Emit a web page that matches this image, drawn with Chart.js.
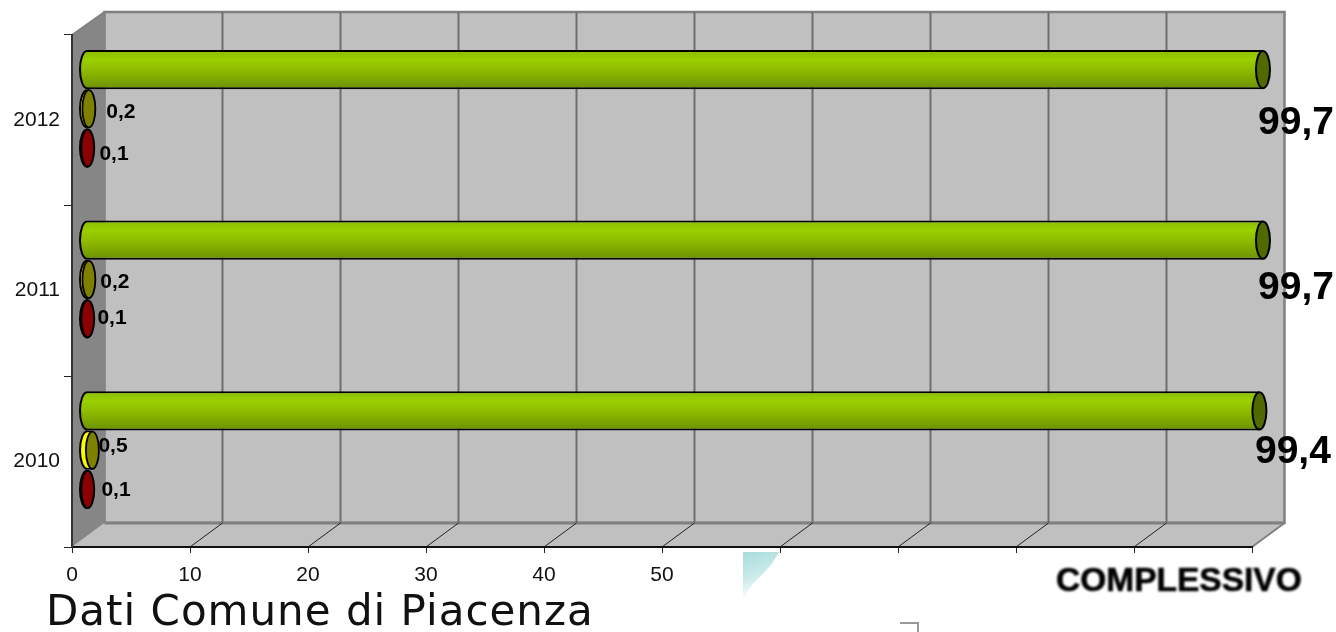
<!DOCTYPE html>
<html>
<head>
<meta charset="utf-8">
<title>Dati Comune di Piacenza</title>
<script src="https://cdn.jsdelivr.net/npm/chart.js@4"></script>
<style>
  html, body { margin: 0; padding: 0; background: #fff; overflow: hidden; }
  #wrap { position: relative; width: 1336px; height: 632px; overflow: hidden; }
  #comuneChart { position: absolute; left: 0; top: 0; }
  #titolo {
    position: absolute; left: 46px; top: 586px; letter-spacing: 1px;
    font: 42px "DejaVu Sans", sans-serif; color: #111; white-space: nowrap;
  }
  #complessivo {
    position: absolute; left: 1056px; top: 561px;
    font: bold 33.5px "Liberation Sans", sans-serif; color: #000; white-space: nowrap;
    -webkit-text-stroke: 0.6px #000;
    filter: blur(0.8px);
  }
  #angolo {
    position: absolute; left: 743px; top: 552px; width: 36px; height: 50px;
    background: linear-gradient(160deg, #a8dcdc 0%, #cceaea 45%, #ffffff 78%);
    clip-path: polygon(0 0, 100% 0, 80% 24%, 55% 44%, 30% 62%, 12% 80%, 0 100%);
  }
  #squadra {
    position: absolute; left: 900px; top: 622px; width: 17px; height: 12px;
    border-top: 2px solid #999; border-right: 2px solid #999; filter: blur(0.5px);
  }
</style>
</head>
<body>
<div id="wrap">
  <canvas id="comuneChart" width="1336" height="632"></canvas>
  <div id="angolo"></div>
  <div id="squadra"></div>
  <div id="titolo">Dati Comune di Piacenza</div>
  <div id="complessivo">COMPLESSIVO</div>
</div>

<script>
const years = ['2012', '2011', '2010'];
const greenValues = [99.7, 99.7, 99.4];
const yellowValues = [0.2, 0.2, 0.5];
const redValues = [0.1, 0.1, 0.1];
const axisTicks = [0, 10, 20, 30, 40, 50];

/* -----------------------------
   3D look of the plot box
------------------------------ */
const DEPTH_X = 32.5;     // back wall offset
const DEPTH_Y = 24;
const BAR_DX = 14.5;      // bars stand halfway into the box
const BAR_DY = -11.5;
const BAR_GROUP = 0.69;

// where each value label sits, relative to the end of its bar
const greenNudge = [[33, 53.5], [33, 48.5], [33.5, 41.5]];
const yellowNudge = [[32, 3], [26, 2.5], [20.6, -4]];
const redNudge = [[26.3, 6.5], [24.3, -0.5], [28.3, 0.5]];

function comma(v) {
  return v.toFixed(1).replace('.', ',');
}

function poly(ctx, pts, fill, stroke, lw) {
  ctx.beginPath();
  pts.forEach((p, i) => i ? ctx.lineTo(p[0], p[1]) : ctx.moveTo(p[0], p[1]));
  ctx.closePath();
  if (fill) { ctx.fillStyle = fill; ctx.fill(); }
  if (stroke) { ctx.strokeStyle = stroke; ctx.lineWidth = lw; ctx.stroke(); }
}

function segment(ctx, x1, y1, x2, y2, color, lw) {
  ctx.beginPath();
  ctx.moveTo(x1, y1);
  ctx.lineTo(x2, y2);
  ctx.strokeStyle = color;
  ctx.lineWidth = lw;
  ctx.stroke();
}

/* -----------------------------
   Walls, floor and grid
------------------------------ */
const boxPlugin = {
  id: 'box',
  beforeDraw(chart) {
    const { ctx, chartArea: a, scales } = chart;
    const bx = DEPTH_X, by = DEPTH_Y;
    ctx.save();
    // back wall
    poly(ctx, [[a.left + bx, a.top - by + 1], [a.right + bx, a.top - by + 1], [a.right + bx, a.bottom - by], [a.left + bx, a.bottom - by]],
      '#c0c0c0', '#808080', 2.5);
    // floor
    poly(ctx, [[a.left, a.bottom], [a.left + bx, a.bottom - by], [a.right + bx, a.bottom - by], [a.right, a.bottom]], '#c0c0c0');
    // side wall
    poly(ctx, [[a.left, a.top], [a.left + bx, a.top - by + 1], [a.left + bx, a.bottom - by], [a.left, a.bottom]], '#868686');
    segment(ctx, a.left, a.top, a.left + bx, a.top - by + 1, '#808080', 2);
    segment(ctx, a.right, a.bottom, a.right + bx, a.bottom - by, '#808080', 2);
    segment(ctx, a.left + bx, a.bottom - by, a.right + bx, a.bottom - by, '#808080', 3);

    for (let v = 10; v < 100; v += 10) {
      const x = scales.x.getPixelForValue(v);
      segment(ctx, x + bx, a.top - by + 1, x + bx, a.bottom - by, '#6e6e6e', 2);
      segment(ctx, x, a.bottom, x + bx, a.bottom - by, '#222', 1);
    }
    ctx.restore();
  },

  /* -----------------------------
     Bars are shifted into the box
  ------------------------------ */
  beforeDatasetsDraw(chart) {
    chart.ctx.save();
    chart.ctx.translate(BAR_DX, BAR_DY);
  },
  beforeDatasetDraw(chart, args) {
    const ctx = chart.ctx;
    // rounded back end, only its outer half gets an outline
    args.meta.data.forEach(el => {
      ctx.beginPath();
      ctx.ellipse(el.base, el.y, 7, el.height / 2 - 1, 0, 0, Math.PI * 2);
      ctx.fillStyle = el.options.backgroundColor;
      ctx.fill();
      ctx.beginPath();
      ctx.ellipse(el.base, el.y, 7, el.height / 2 - 1, 0, Math.PI / 2, Math.PI * 1.5);
      ctx.strokeStyle = '#000';
      ctx.lineWidth = 2;
      ctx.stroke();
    });
  },
  afterDatasetDraw(chart, args) {
    const ds = chart.data.datasets[args.index];
    const ctx = chart.ctx;
    args.meta.data.forEach(el => {
      ctx.beginPath();
      ctx.ellipse(el.x, el.y, ds.capWidth, el.height / 2 - 1, 0, 0, Math.PI * 2);
      ctx.fillStyle = ds.capColor;
      ctx.fill();
      ctx.strokeStyle = '#000';
      ctx.lineWidth = ds.capLine;
      ctx.stroke();
    });
  },
  afterDatasetsDraw(chart) {
    const ctx = chart.ctx;
    ctx.fillStyle = '#000';
    ctx.textAlign = 'center';
    ctx.textBaseline = 'middle';
    chart.data.datasets.forEach((ds, i) => {
      ctx.font = 'bold ' + ds.labelSize + 'px "Liberation Sans", sans-serif';
      chart.getDatasetMeta(i).data.forEach((el, j) => {
        ctx.fillText(comma(ds.data[j]), el.x + ds.nudge[j][0], el.y + ds.nudge[j][1]);
      });
    });
    ctx.restore();
  }
};

// vertical shading of a bar, so it reads as a cylinder
function cylinder(stops) {
  return function (c) {
    const flat = stops[stops.length - 1][1];
    const y = c.chart.scales.y;
    if (!y || c.dataIndex === undefined) return flat;
    const h = y.height / years.length * BAR_GROUP / 3;
    const top = y.getPixelForValue(c.dataIndex) + (c.datasetIndex - 1.5) * h;
    if (!Number.isFinite(top) || !Number.isFinite(h)) return flat;
    const g = c.chart.ctx.createLinearGradient(0, top, 0, top + h);
    stops.forEach(s => g.addColorStop(s[0], s[1]));
    return g;
  };
}

const greenStops = [[0, '#8abc00'], [0.25, '#9ad000'], [0.55, '#8cb800'], [1, '#6a9000']];
const yellowStops = [[0, '#ffff00'], [1, '#f4f400']];
const redStops = [[0, '#200000'], [1, '#100000']];

function series(label, data, stops, capColor, capWidth, capLine, labelSize, nudge) {
  return {
    label,
    data,
    capColor,
    capWidth,
    capLine,
    labelSize,
    nudge,
    clip: false,
    backgroundColor: cylinder(stops),
    borderColor: '#000',
    borderWidth: { top: 2, bottom: 2, left: 0, right: 0 },
    borderSkipped: false,
    categoryPercentage: BAR_GROUP,
    barPercentage: 1
  };
}

const ctx = document.getElementById('comuneChart').getContext('2d');

new Chart(ctx, {
  type: 'bar',
  plugins: [boxPlugin],
  data: {
    labels: years,
    datasets: [
      series('Verde', greenValues, greenStops, '#506a00', 7, 2, 39, greenNudge),
      series('Giallo', yellowValues, yellowStops, '#808000', 6.5, 1.8, 21, yellowNudge),
      series('Rosso', redValues, redStops, '#8b0000', 6.5, 2, 21, redNudge)
    ]
  },
  options: {
    indexAxis: 'y',
    responsive: false,
    animation: false,
    layout: { padding: { left: 0, right: 84, top: 35, bottom: 0 } },
    plugins: {
      legend: { display: false },
      title: { display: false },
      tooltip: { enabled: false }
    },
    scales: {
      x: {
        min: 0,
        max: 100,
        afterFit(scale) { scale.height = 85; },
        grid: { drawOnChartArea: false, color: '#222', tickLength: 6, tickWidth: 1 },
        border: { color: '#111', width: 2 },
        ticks: {
          stepSize: 10,
          maxRotation: 0,
          autoSkip: false,
          color: '#111',
          padding: 10,
          font: { family: '"Liberation Sans", sans-serif', size: 21 },
          callback: v => axisTicks.includes(v) ? String(v) : ''
        }
      },
      y: {
        afterFit(scale) { scale.width = 72; },
        grid: { drawOnChartArea: false, color: '#222', tickLength: 8, tickWidth: 1 },
        border: { color: '#333', width: 2 },
        ticks: {
          color: '#111',
          padding: 4,
          labelOffset: -0.5,
          font: { family: '"Liberation Sans", sans-serif', size: 21 }
        }
      }
    }
  }
});
</script>
</body>
</html>
